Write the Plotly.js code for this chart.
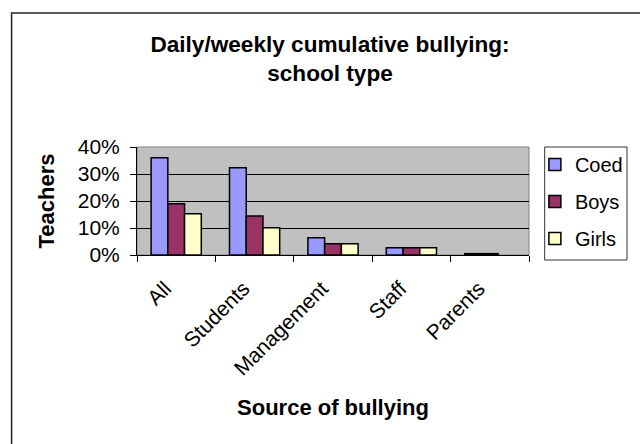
<!DOCTYPE html>
<html>
<head>
<meta charset="utf-8">
<script src="https://cdn.plot.ly/plotly-3.0.1.min.js"></script>
<style>
html,body{margin:0;padding:0;background:#fff;}
#chart{width:640px;height:444px;}
</style>
</head>
<body>
<div id="chart"></div>
<script>
var categories = ['All', 'Students', 'Management', 'Staff', 'Parents'];
var coed  = [0.36, 0.323, 0.064, 0.027, 0.005];
var boys  = [0.19, 0.144, 0.042, 0.027, 0.005];
var girls = [0.153, 0.101, 0.042, 0.027, null];
var seriesNames = ['Coed', 'Boys', 'Girls'];
var seriesColors = ['#9999FF', '#993366', '#FFFFCC'];
var yTickVals = [0, 0.1, 0.2, 0.3, 0.4];
var yTickText = ['0%', '10%', '20%', '30%', '40%'];

var FONT = 'Liberation Sans, Arial, sans-serif';
var series = [coed, boys, girls];
var traces = series.map(function (vals, i) {
  return {
    type: 'bar',
    x: categories,
    y: vals,
    name: seriesNames[i],
    legendgroup: 'g' + i,
    marker: {color: seriesColors[i], line: {color: '#000', width: 1.5}},
    hoverinfo: 'none'
  };
});

var L = 137, R = 537, T = 147, B = 255, W = 640, H = 444;
var pw = R - L, ph = B - T;

var layout = {
  width: W, height: H,
  margin: {l: L, r: W - R, t: T, b: H - B, pad: 0},
  paper_bgcolor: '#fff',
  plot_bgcolor: '#C0C0C0',
  font: {family: FONT, size: 20, color: '#000'},
  barmode: 'group',
  bargap: 0.36,
  bargroupgap: 0,
  showlegend: true,
  title: {
    text: '<b>Daily/weekly cumulative bullying:<br>school type</b>',
    font: {family: FONT, size: 22.6, color: '#000'},
    x: 330 / W, xanchor: 'center',
    y: 1 - 52 / H, yanchor: 'top'
  },
  xaxis: {
    type: 'category',
    tickangle: -45,
    tickson: 'boundaries',
    ticks: 'outside', ticklen: 6, tickcolor: '#000', tickwidth: 1,
    showline: true, linecolor: '#000', linewidth: 1,
    showgrid: false,
    tickfont: {family: FONT, size: 21},
    ticklabelstandoff: 12,
    ticklabelshift: -11,
    title: {text: '<b>Source of bullying</b>', font: {family: FONT, size: 22}, standoff: 20},
    automargin: false,
    fixedrange: true
  },
  yaxis: {
    range: [0, 0.4],
    tickvals: yTickVals,
    ticktext: yTickText,
    ticks: 'outside', ticklen: 6, tickcolor: '#000',
    showline: true, linecolor: '#000', linewidth: 1,
    showgrid: true, gridcolor: '#000', gridwidth: 1,
    zeroline: false,
    tickfont: {family: FONT, size: 21},
    ticklabelstandoff: 6,
    title: {text: '<b>Teachers</b>', font: {family: FONT, size: 22}, standoff: 17},
    automargin: false,
    fixedrange: true
  },
  legend: {
    x: (543 - L) / pw, xanchor: 'left',
    y: 1 + 2 / ph, yanchor: 'top',
    bgcolor: 'rgba(0,0,0,0)',
    borderwidth: 0,
    font: {family: FONT, size: 20},
    tracegroupgap: 8,
    itemwidth: 30
  },
  shapes: [
    {type: 'rect', xref: 'paper', yref: 'paper', x0: 0, x1: 1, y0: 0, y1: 1,
     line: {color: '#808080', width: 1}, layer: 'below'},
    {type: 'rect', xref: 'paper', yref: 'paper',
     x0: (553 - L) / pw, x1: (637 - L) / pw, y0: (B - 260) / ph, y1: (B - 147) / ph,
     line: {color: '#333', width: 1}, fillcolor: 'rgba(0,0,0,0)'},
    {type: 'rect', xref: 'paper', yref: 'paper',
     x0: (9 - L) / pw, x1: (700 - L) / pw, y0: (B - 500) / ph, y1: (B - 13) / ph,
     line: {color: '#222', width: 1.5}, fillcolor: 'rgba(0,0,0,0)'}
  ]
};

Plotly.newPlot('chart', traces, layout, {displayModeBar: false, staticPlot: true});
</script>
</body>
</html>
